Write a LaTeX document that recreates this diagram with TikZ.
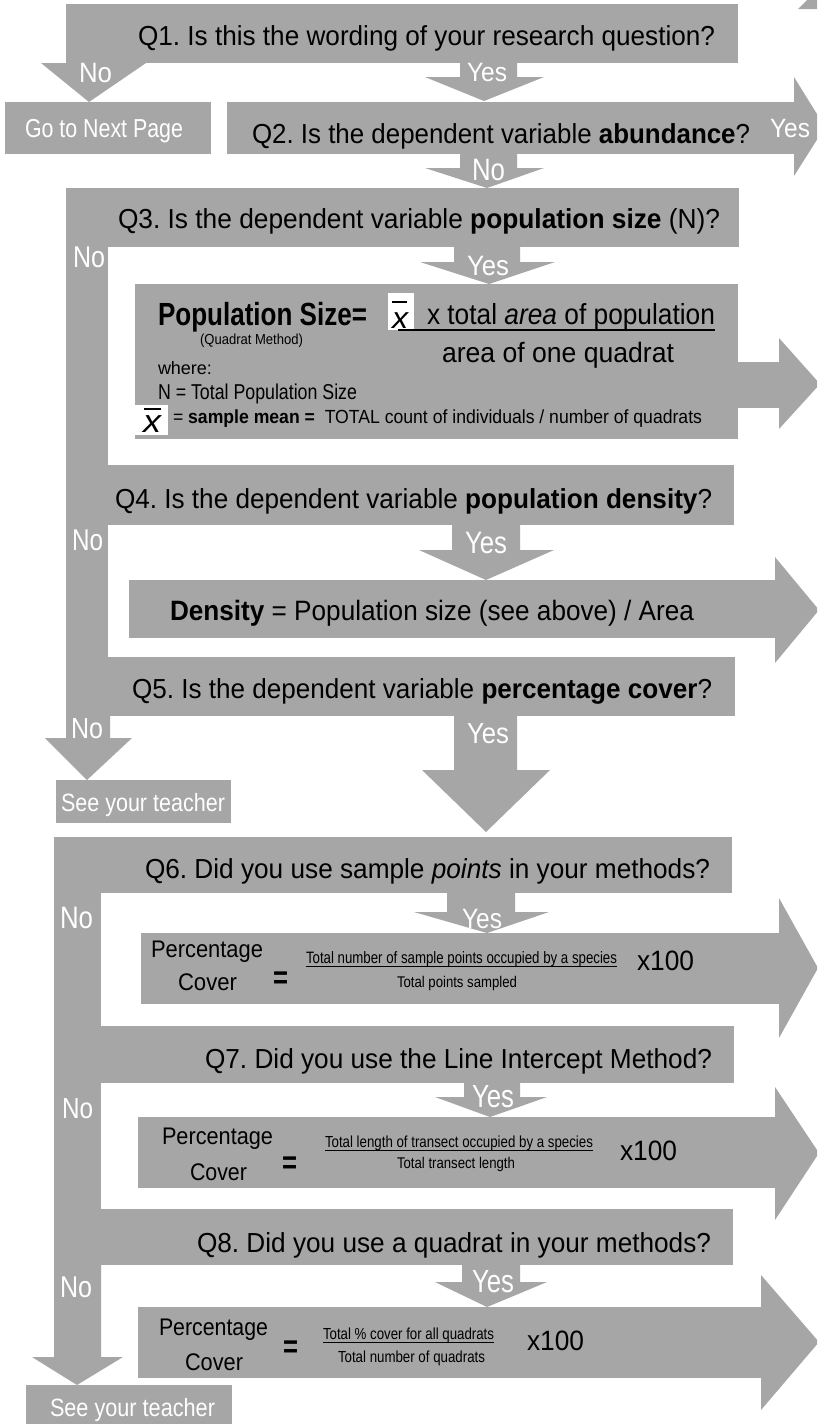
\documentclass[tikz,border=0pt]{standalone}
\usepackage{graphicx}
\usepackage{fontspec}
\setmainfont{Liberation Sans}
\frenchspacing
\definecolor{bg}{HTML}{A6A6A6}
\newcommand{\ft}[3]{\resizebox{#1pt}{\height}{\fontsize{#2pt}{#2pt}\selectfont #3}}
\tikzset{
  tx/.style={anchor=base west, inner sep=0pt, outer sep=0pt, text=black},
  wl/.style={tx, text=white},
  ul/.style={line width=1.2pt, black}
}
\begin{document}
\begin{tikzpicture}[x=1pt,y=-1pt]
\useasboundingbox (0,0) rectangle (817,1424);
\clip (0,0) rectangle (817,1424);
\fill[white] (0,0) rectangle (817,1424);
% ---------- shapes ----------
\fill[bg] (798,9)--(807,0)--(817,0)--(817,9)--cycle;
\fill[bg] (66,4) rectangle (738,63);
\fill[bg] (41,63)--(146,63)--(89,102)--cycle;
\fill[bg] (5,102) rectangle (211,154);
\fill[bg] (460,63)--(517,63)--(517,77)--(544,77)--(484,101)--(425,77)--(460,77)--cycle;
\fill[bg] (227,102) rectangle (794,154);
\fill[bg] (794,77)--(825,127)--(794,176)--cycle;
\fill[bg] (460,154)--(517,154)--(517,168)--(544,168)--(487,188)--(425,168)--(460,168)--cycle;
\fill[bg] (66,188) rectangle (739,247);
\fill[bg] (66,247) rectangle (108,465);
\fill[bg] (66,465) rectangle (734,525);
\fill[bg] (66,525) rectangle (108,657);
\fill[bg] (66,657) rectangle (735,716);
\fill[bg] (66,716)--(110,716)--(110,738)--(132,738)--(87,780)--(45,738)--(66,738)--cycle;
\fill[bg] (454,247)--(520,247)--(520,262)--(555,262)--(489,284)--(420,262)--(454,262)--cycle;
\fill[bg] (135,284) rectangle (738,439);
\fill[bg] (738,362) rectangle (779,408);
\fill[bg] (779,338)--(820,384)--(779,429)--cycle;
\fill[bg] (452,525)--(520,525)--(520,550)--(554,550)--(486,580)--(419,550)--(452,550)--cycle;
\fill[bg] (129,580) rectangle (775,638);
\fill[bg] (775,557)--(819,610)--(775,663)--cycle;
\fill[bg] (454,716)--(517,716)--(517,770)--(550,770)--(486,832)--(422,770)--(454,770)--cycle;
\fill[bg] (56,780) rectangle (231,823);
\fill[bg] (54,837) rectangle (732,893);
\fill[bg] (54,893) rectangle (101,1026);
\fill[bg] (54,1026) rectangle (734,1083);
\fill[bg] (54,1083) rectangle (101,1209);
\fill[bg] (54,1209) rectangle (733,1265);
\fill[bg] (54,1265)--(101,1265)--(101,1357)--(123,1357)--(77,1385)--(32,1357)--(54,1357)--cycle;
\fill[bg] (447,893)--(515,893)--(515,912)--(549,912)--(487,933)--(414,912)--(447,912)--cycle;
\fill[bg] (141,933) rectangle (779,1004);
\fill[bg] (779,898)--(818,968)--(779,1038)--cycle;
\fill[bg] (464,1083)--(520,1083)--(520,1097)--(547,1097)--(490,1117)--(435,1097)--(464,1097)--cycle;
\fill[bg] (138,1117) rectangle (775,1188);
\fill[bg] (775,1087)--(819,1153)--(775,1220)--cycle;
\fill[bg] (462,1265)--(520,1265)--(520,1282)--(547,1282)--(487,1307)--(435,1282)--(462,1282)--cycle;
\fill[bg] (138,1307) rectangle (761,1378);
\fill[bg] (761,1275)--(819,1342)--(761,1410)--cycle;
\fill[bg] (26,1385) rectangle (232,1430);
% ---------- questions ----------
\node[tx] (q1) at (138,45) {\ft{577}{27.5}{Q1. Is this the wording of your research question?}};
\node[tx] (q2) at (252,143) {\ft{498}{27.5}{Q2. Is the dependent variable \textbf{abundance}?}};
\node[tx] (q3) at (118,228) {\ft{602}{27.5}{Q3. Is the dependent variable \textbf{population size} (N)?}};
\node[tx] (q4) at (115,508) {\ft{597}{27.5}{Q4. Is the dependent variable \textbf{population density}?}};
\node[tx] (q5) at (132,698) {\ft{580}{27.5}{Q5. Is the dependent variable \textbf{percentage cover}?}};
\node[tx] (q6) at (145,878) {\ft{565}{27.5}{Q6. Did you use sample \textit{points} in your methods?}};
\node[tx] (q7) at (205,1068) {\ft{507}{27.5}{Q7. Did you use the Line Intercept Method?}};
\node[tx] (q8) at (197,1252) {\ft{514}{27.5}{Q8. Did you use a quadrat in your methods?}};
% ---------- yes / no labels ----------
\node[wl] (no1) at (79,82) {\ft{33}{28}{No}};
\node[wl] (yes1) at (467,81) {\ft{40}{26.5}{Yes}};
\node[wl] (yes2) at (770,137) {\ft{40}{26.5}{Yes}};
\node[wl] (no2) at (472,180) {\ft{33}{31}{No}};
\node[wl] (no3) at (73,267) {\ft{32}{30}{No}};
\node[wl] (yes3) at (467,275) {\ft{42}{28}{Yes}};
\node[wl] (no4) at (72,550) {\ft{31}{30}{No}};
\node[wl] (yes4) at (465,553) {\ft{42}{31}{Yes}};
\node[wl] (no5) at (71,738) {\ft{32}{29}{No}};
\node[wl] (yes5) at (467,743) {\ft{42}{29}{Yes}};
\node[wl] (no6) at (60,928) {\ft{33}{31}{No}};
\node[wl] (yes6) at (462,928) {\ft{40}{28}{Yes}};
\node[wl] (no7) at (62,1118) {\ft{31}{29}{No}};
\node[wl] (yes7) at (472,1107) {\ft{42}{32}{Yes}};
\node[wl] (no8) at (60,1297) {\ft{32}{30}{No}};
\node[wl] (yes8) at (472,1292) {\ft{42}{32}{Yes}};
% ---------- end boxes ----------
\node[wl] (go) at (25,137) {\ft{158}{26}{Go to Next Page}};
\node[wl] (see1) at (61,811) {\ft{164}{25}{See your teacher}};
\node[wl] (see2) at (50,1416) {\ft{165}{25}{See your teacher}};
% ---------- population size formula ----------
\node[tx] (ps) at (158,325) {\ft{209}{32}{\textbf{Population Size=}}};
\node[tx] (qm) at (200,344) {\ft{103}{14.5}{(Quadrat Method)}};
\fill[white] (388,293) rectangle (414,330);
\node[tx] (xb1) at (392,328) {\ft{17}{30}{\textit{x}}};
\draw[line width=1.3pt] (392,302) -- (407,302);
\node[tx] (num0) at (427,324) {\ft{288}{29}{x total \textit{area} of population}};
\draw[ul, line width=1.4pt] (398,330) -- (715,330);
\node[tx] (den0) at (442,362) {\ft{232}{28}{area of one quadrat}};
\node[tx] (wh) at (158,374) {\ft{54}{18}{where:}};
\node[tx] (nn) at (158,399) {\ft{199}{21.5}{N = Total Population Size}};
\fill[white] (135,405) rectangle (168,435);
\node[tx] (xb2) at (143,432) {\ft{19}{32}{\textit{x}}};
\draw[line width=1.3pt] (144,409) -- (161,409);
\node[tx] (sm) at (173,423) {\ft{529}{19}{= \textbf{sample mean =}\ \ TOTAL count of individuals / number of quadrats}};
% ---------- density ----------
\node[tx] (dens) at (170,620) {\ft{524}{28}{\textbf{Density} = Population size (see above) / Area}};
% ---------- percentage cover 1 ----------
\node[tx] (pa1) at (151,957) {\ft{112}{24}{Percentage}};
\node[tx] (pb1) at (178,990) {\ft{59}{24}{Cover}};
\node[tx] (eq1) at (273,988) {\ft{15}{32}{\textbf{=}}};
\node[tx] (n1) at (306,963) {\ft{311}{16.5}{Total number of sample points occupied by a species}};
\draw[line width=0.9pt] ([yshift=-3pt]n1.base west) -- ([yshift=-3pt]n1.base east);
\node[tx] (d1) at (397,987) {\ft{120}{15.5}{Total points sampled}};
\node[tx] (x1) at (637,970) {\ft{57}{28}{x100}};
% ---------- percentage cover 2 ----------
\node[tx] (pa2) at (162,1144) {\ft{111}{24}{Percentage}};
\node[tx] (pb2) at (190,1180) {\ft{57}{24}{Cover}};
\node[tx] (eq2) at (282,1173) {\ft{15}{32}{\textbf{=}}};
\node[tx] (n2) at (325,1147) {\ft{268}{16}{Total length of transect occupied by a species}};
\draw[line width=0.9pt] ([yshift=-3pt]n2.base west) -- ([yshift=-3pt]n2.base east);
\node[tx] (d2) at (397,1168) {\ft{118}{15.5}{Total transect length}};
\node[tx] (x2) at (620,1160) {\ft{57}{28}{x100}};
% ---------- percentage cover 3 ----------
\node[tx] (pa3) at (159,1335) {\ft{109}{24}{Percentage}};
\node[tx] (pb3) at (185,1370) {\ft{58}{24}{Cover}};
\node[tx] (eq3) at (283,1357) {\ft{15}{32}{\textbf{=}}};
\node[tx] (n3) at (323,1339) {\ft{171}{16}{Total \% cover for all quadrats}};
\draw[line width=0.9pt] ([yshift=-3pt]n3.base west) -- ([yshift=-3pt]n3.base east);
\node[tx] (d3) at (338,1362) {\ft{147}{16}{Total number of quadrats}};
\node[tx] (x3) at (527,1350) {\ft{57}{28}{x100}};
\end{tikzpicture}
\end{document}
